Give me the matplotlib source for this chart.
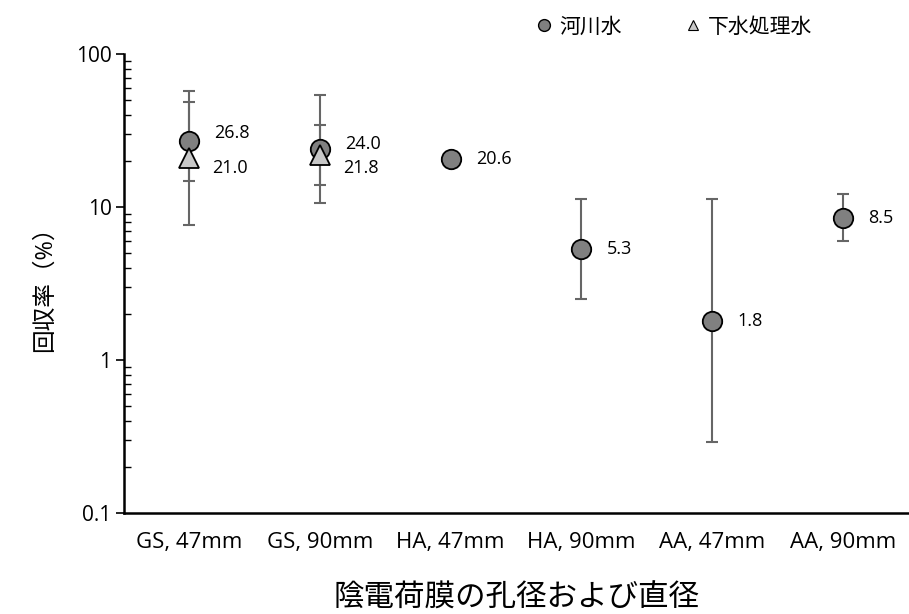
import matplotlib
matplotlib.use("Agg")
import matplotlib.pyplot as plt
from matplotlib.ticker import LogLocator, FixedLocator, NullFormatter
from matplotlib.lines import Line2D
import numpy as np

plt.rcParams['font.family'] = ['Open Sans', 'Noto Sans CJK JP', 'DejaVu Sans']

categories = ["GS, 47mm", "GS, 90mm", "HA, 47mm", "HA, 90mm", "AA, 47mm", "AA, 90mm"]

# River water (河川水)
river = [26.8, 24.0, 20.6, 5.3, 1.8, 8.5]
river_low = [7.6, 10.6, np.nan, 2.5, 0.29, 6.0]
river_high = [57.5, 54.2, np.nan, 11.3, 11.3, 12.2]

# Treated sewage (下水処理水)
sewage_idx = [0, 1]
sewage = [21.0, 21.8]
sewage_low = [14.7, 13.9]
sewage_high = [48.6, 34.2]

river_labels = ["26.8", "24.0", "20.6", "5.3", "1.8", "8.5"]
sewage_labels = ["21.0", "21.8"]

fig = plt.figure(figsize=(9.09, 6.14), dpi=100)
ax = fig.add_axes([124/909, 1-513/614, 1-124/909-0.001, (513-54)/614])

x = np.arange(len(categories))
err_color = "#666666"

for xi, v, lo, hi in zip(x, river, river_low, river_high):
    if not np.isnan(lo):
        ax.errorbar([xi], [v], yerr=[[v-lo], [hi-v]], fmt='none', ecolor=err_color,
                    elinewidth=1.5, capsize=4.3, capthick=1.5, zorder=2)
for xi, v, lo, hi in zip(sewage_idx, sewage, sewage_low, sewage_high):
    ax.errorbar([xi], [v], yerr=[[v-lo], [hi-v]], fmt='none', ecolor=err_color,
                elinewidth=1.5, capsize=4.3, capthick=1.5, zorder=2)

ax.plot(x, river, linestyle='none', marker='o', markersize=14, markerfacecolor='#808080',
        markeredgecolor='black', markeredgewidth=1.3, zorder=3)
ax.plot(sewage_idx, sewage, linestyle='none', marker='^', markersize=15, markerfacecolor='#c8c8c8',
        markeredgecolor='black', markeredgewidth=1.3, zorder=4)

river_dy = [8, 5, 0, 0, 0, 0]
sewage_dy = [-10, -13]
for xi, v, lab, dy in zip(x, river, river_labels, river_dy):
    ax.annotate(lab, (xi, v), xytext=(25, dy), textcoords='offset pixels',
                ha='left', va='center', fontsize=13, color='black')
for xi, v, lab, dy in zip(sewage_idx, sewage, sewage_labels, sewage_dy):
    ax.annotate(lab, (xi, v), xytext=(23, dy), textcoords='offset pixels',
                ha='left', va='center', fontsize=13, color='black')

ax.set_yscale('log')
ax.set_ylim(0.1, 100)
ax.set_xlim(-0.5, len(categories) - 0.5)
ax.yaxis.set_major_locator(FixedLocator([0.1, 1, 10, 100]))
ax.set_yticklabels(["0.1", "1", "10", "100"])
ax.yaxis.set_minor_locator(LogLocator(base=10, subs=np.arange(2, 10)))
ax.yaxis.set_minor_formatter(NullFormatter())
ax.tick_params(axis='y', which='major', direction='out', length=6, width=1.2, labelsize=15, pad=3)
ax.tick_params(axis='y', which='minor', direction='in', length=5, width=1.0)
ax.set_xticks(x)
ax.set_xticklabels(categories)
ax.tick_params(axis='x', which='both', length=0, labelsize=16, pad=14)

for s in ['top', 'right']:
    ax.spines[s].set_visible(False)
for s in ['left', 'bottom']:
    ax.spines[s].set_linewidth(1.8)
    ax.spines[s].set_color('black')

ax.set_ylabel("回収率（%）", fontsize=17, labelpad=14)
ax.set_xlabel("陰電荷膜の孔径および直径", fontsize=22, labelpad=22)

handles = [
    Line2D([], [], linestyle='none', marker='o', markersize=8.5, markerfacecolor='#808080',
           markeredgecolor='black', markeredgewidth=1.0),
    Line2D([], [], linestyle='none', marker='^', markersize=7, markerfacecolor='#c8c8c8',
           markeredgecolor='black', markeredgewidth=0.8),
]
fig.legend(handles, ["河川水", "下水処理水"], loc='center', bbox_to_anchor=(674/909, 1-27/614),
           ncol=2, frameon=False, fontsize=15, handletextpad=0.35, columnspacing=3.0,
           handlelength=0.8, borderpad=0)

fig.savefig("out.png", dpi=100)
